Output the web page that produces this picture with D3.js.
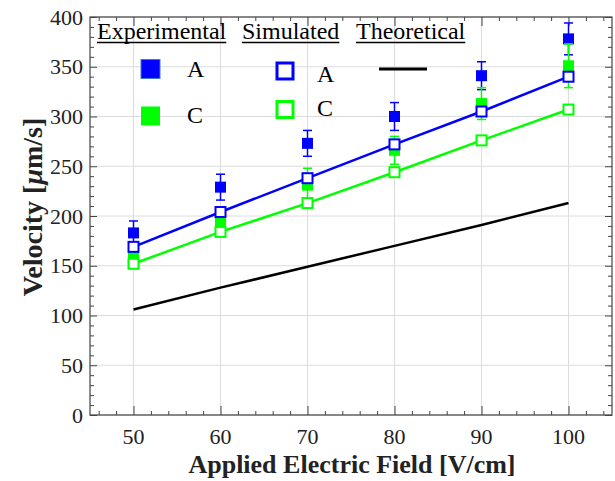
<!DOCTYPE html>
<html><head><meta charset="utf-8">
<script src="https://cdn.jsdelivr.net/npm/d3@7"></script>
<style>body{margin:0;background:#fff}svg{display:block}</style>
</head><body>
<script>
const fields = [50, 60, 70, 80, 90, 100];
const expA = [183, 229, 273, 300, 341, 378];
const expAErr = [12, 13, 13, 14, 14, 16];
const expC = [162, 193, 231, 266, 313, 351];
const expCErr = [8, 10, 17, 14, 16, 22];
const simA = [169, 204, 238, 272, 305, 340];
const simC = [152, 184, 213, 244, 276, 307];
const theo = [106, 128, 149, 170, 191, 213];
const xTicks = [50, 60, 70, 80, 90, 100];
const yTicks = [0, 50, 100, 150, 200, 250, 300, 350, 400];

const W = 615, H = 481;
const m = {l: 90, r: 612, t: 17, b: 415};
const svg = d3.select("body").append("svg").attr("width", W).attr("height", H);
const x = d3.scaleLinear().domain([45, 105]).range([m.l, m.r]);
const y = d3.scaleLinear().domain([0, 400]).range([m.b, m.t]);
const serif = "'Liberation Serif','Times New Roman',serif";
const BLUE = "#0000ff", GREEN = "#00ff00";

// grid
svg.append("g").selectAll("line").data(xTicks).join("line")
  .attr("x1", d => x(d)).attr("x2", d => x(d)).attr("y1", m.t).attr("y2", m.b)
  .attr("stroke", "#dcdcdc").attr("stroke-width", 1);
svg.append("g").selectAll("line").data(yTicks).join("line")
  .attr("y1", d => y(d)).attr("y2", d => y(d)).attr("x1", m.l).attr("x2", m.r)
  .attr("stroke", "#dcdcdc").attr("stroke-width", 1);

// axes with inward ticks on all sides
const xMinor = d3.range(46, 105, 2).filter(v => !xTicks.includes(v));
const yMinor = d3.range(10, 400, 10).filter(v => !yTicks.includes(v));
function axes() {
  const g = svg.append("g").attr("font-family", serif).attr("font-size", 22).attr("fill", "#222");
  const mk = (axis, tv, len) => axis.tickValues(tv).tickSize(len).tickFormat("");
  g.append("g").attr("transform", `translate(0,${m.b})`).call(mk(d3.axisTop(x), xMinor, 4));
  g.append("g").attr("transform", `translate(0,${m.b})`).call(mk(d3.axisTop(x), xTicks, 9));
  g.append("g").attr("transform", `translate(0,${m.t})`).call(mk(d3.axisBottom(x), xMinor, 4));
  g.append("g").attr("transform", `translate(0,${m.t})`).call(mk(d3.axisBottom(x), xTicks, 9));
  g.append("g").attr("transform", `translate(${m.l},0)`).call(mk(d3.axisRight(y), yMinor, 4));
  g.append("g").attr("transform", `translate(${m.l},0)`).call(mk(d3.axisRight(y), yTicks, 7));
  g.append("g").attr("transform", `translate(${m.r},0)`).call(mk(d3.axisLeft(y), yMinor, 4));
  g.append("g").attr("transform", `translate(${m.r},0)`).call(mk(d3.axisLeft(y), yTicks, 7));
  g.selectAll(".domain").remove();
  g.selectAll(".tick line").attr("stroke", "#444");
  svg.append("rect").attr("x", m.l).attr("y", m.t).attr("width", m.r - m.l).attr("height", m.b - m.t)
    .attr("fill", "none").attr("stroke", "#444").attr("stroke-width", 1.2);
  g.append("g").selectAll("text").data(xTicks).join("text")
    .attr("x", d => x(d)).attr("y", 444).attr("text-anchor", "middle").text(d => d);
  g.append("g").selectAll("text").data(yTicks).join("text")
    .attr("x", 83).attr("y", d => y(d) + 7.5).attr("text-anchor", "end").text(d => d);
}
axes();

// theoretical
const line = d3.line().x((d, i) => x(fields[i])).y(d => y(d));
const plot = svg.append("g");
plot.append("path").attr("d", line(theo)).attr("fill", "none").attr("stroke", "#000").attr("stroke-width", 2.5);

// experimental with error bars
function expSeries(vals, errs, color) {
  const g = plot.append("g").attr("stroke", color).attr("stroke-width", 1.5);
  fields.forEach((f, i) => {
    const cx = x(f), t = y(vals[i] + errs[i]), b = y(vals[i] - errs[i]);
    g.append("line").attr("x1", cx).attr("x2", cx).attr("y1", t).attr("y2", b);
    g.append("line").attr("x1", cx - 4.5).attr("x2", cx + 4.5).attr("y1", t).attr("y2", t);
    g.append("line").attr("x1", cx - 4.5).attr("x2", cx + 4.5).attr("y1", b).attr("y2", b);
  });
  plot.append("g").selectAll("rect").data(vals).join("rect")
    .attr("x", (d, i) => x(fields[i]) - 5.5).attr("y", d => y(d) - 5.5)
    .attr("width", 11).attr("height", 11).attr("fill", color);
}
expSeries(expA, expAErr, BLUE);
expSeries(expC, expCErr, GREEN);

// simulated
function simSeries(vals, color) {
  plot.append("path").attr("d", line(vals)).attr("fill", "none").attr("stroke", color).attr("stroke-width", 2.5);
}
simSeries(simC, GREEN);
simSeries(simA, BLUE);
function simMarkers(vals, color) {
  plot.append("g").selectAll("rect").data(vals).join("rect")
    .attr("x", (d, i) => x(fields[i]) - 5).attr("y", d => y(d) - 5)
    .attr("width", 10).attr("height", 10).attr("fill", "#fff").attr("stroke", color).attr("stroke-width", 2);
}
simMarkers(simC, GREEN);
simMarkers(simA, BLUE);

// legend
const lg = svg.append("g").attr("font-family", serif).attr("font-size", 24).attr("fill", "#000");
const heads = [["Experimental", 97], ["Simulated", 242], ["Theoretical", 356]];
heads.forEach(([t, hx]) => {
  const tx = lg.append("text").attr("x", hx).attr("y", 39).text(t);
  const w = tx.node().getComputedTextLength();
  lg.append("line").attr("x1", hx).attr("x2", hx + w).attr("y1", 42.5).attr("y2", 42.5)
    .attr("stroke", "#000").attr("stroke-width", 1.5);
});
lg.append("rect").attr("x", 141).attr("y", 59.5).attr("width", 19).attr("height", 19).attr("fill", BLUE)
  .attr("stroke", "#4a78c8").attr("stroke-width", 1);
lg.append("text").attr("x", 187).attr("y", 77).text("A");
lg.append("rect").attr("x", 141).attr("y", 106.5).attr("width", 19).attr("height", 19).attr("fill", GREEN);
lg.append("text").attr("x", 187).attr("y", 123).text("C");
lg.append("rect").attr("x", 277).attr("y", 63).attr("width", 16).attr("height", 16).attr("fill", "#fff")
  .attr("stroke", BLUE).attr("stroke-width", 3);
lg.append("text").attr("x", 317).attr("y", 82).text("A");
lg.append("rect").attr("x", 277).attr("y", 101.5).attr("width", 16).attr("height", 16).attr("fill", "#fff")
  .attr("stroke", GREEN).attr("stroke-width", 3);
lg.append("text").attr("x", 317).attr("y", 116).text("C");
lg.append("line").attr("x1", 379).attr("x2", 427).attr("y1", 69).attr("y2", 69).attr("stroke", "#000").attr("stroke-width", 3);

// axis titles
const yt = svg.append("text").attr("font-family", serif).attr("font-size", 28).attr("font-weight", "bold")
  .attr("fill", "#222").attr("text-anchor", "middle").attr("transform", "translate(42,207) rotate(-90)");
yt.append("tspan").text("Velocity [");
yt.append("tspan").attr("font-style", "italic").text("μ");
yt.append("tspan").text("m/s]");
svg.append("text").attr("font-family", serif).attr("font-size", 26).attr("font-weight", "bold")
  .attr("fill", "#222").attr("text-anchor", "middle").attr("x", 352).attr("y", 473)
  .text("Applied Electric Field [V/cm]");
</script>
</body></html>
